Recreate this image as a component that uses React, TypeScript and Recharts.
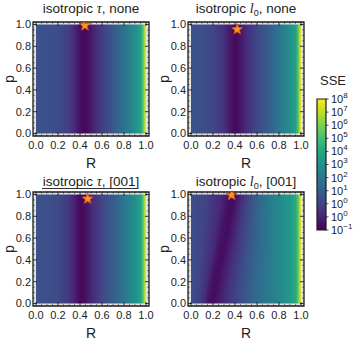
import React from 'react';
import { ComposedChart, XAxis, YAxis, ReferenceArea, Scatter } from 'recharts';

const FONT = '"Liberation Sans", Arial, sans-serif';
const SERIF = '"Liberation Serif", "Times New Roman", serif';
const INK = '#222';

// viridis colour map (11 stops)
const VIRIDIS = ['#440154', '#482475', '#414487', '#355f8d', '#2a788e', '#21918c', '#22a884', '#44bf70', '#7ad151', '#bddf26', '#fde725'];

// ---- data: colour level (0..1 on the colour bar) along R ----
const R_GRID = [0, 0.1, 0.2, 0.3, 0.35, 0.4, 0.45, 0.5, 0.55, 0.6, 0.7, 0.8, 0.9, 0.95, 0.97, 0.99, 1.0];
const LEVEL_TAU_NONE = [0.25, 0.245, 0.23, 0.18, 0.12, 0.04, 0.02, 0.07, 0.13, 0.18, 0.27, 0.38, 0.49, 0.58, 0.7, 0.9, 1.0];
const LEVEL_L0_NONE = [0.25, 0.24, 0.21, 0.14, 0.07, 0.02, 0.06, 0.12, 0.17, 0.21, 0.29, 0.39, 0.49, 0.57, 0.69, 0.9, 1.0];
const LEVEL_TAU_001 = [0.25, 0.24, 0.22, 0.16, 0.09, 0.02, 0.04, 0.11, 0.16, 0.21, 0.29, 0.39, 0.49, 0.58, 0.7, 0.9, 1.0];

const R_GRID_L0_001 = [0, 0.1, 0.2, 0.25, 0.3, 0.35, 0.4, 0.5, 0.6, 0.7, 0.8, 0.9, 0.95, 0.97, 0.99, 1.0];
const LEVEL_L0_001 = [0.24, 0.2, 0.12, 0.05, 0.03, 0.08, 0.14, 0.24, 0.33, 0.4, 0.46, 0.53, 0.61, 0.71, 0.9, 1.0];
const L0_001_BASE_MIN = 0.28; // R of the valley for the profile above (p = 0.5)
const P_ROWS_L0_001 = [0, 0.05, 0.1, 0.15, 0.2, 0.25, 0.3, 0.35, 0.4, 0.45, 0.5, 0.55, 0.6, 0.65, 0.7, 0.75, 0.8, 0.85, 0.9, 0.95, 1.0];
const MIN_R_L0_001 = [0.17, 0.18, 0.19, 0.2, 0.21, 0.22, 0.23, 0.243, 0.255, 0.268, 0.28, 0.29, 0.3, 0.31, 0.32, 0.33, 0.34, 0.35, 0.36, 0.37, 0.38];

// best-fit stars
const BEST_TAU_NONE = [{ R: 0.445, p: 0.99 }];
const BEST_L0_NONE = [{ R: 0.42, p: 0.955 }];
const BEST_TAU_001 = [{ R: 0.47, p: 0.96 }];
const BEST_L0_001 = [{ R: 0.37, p: 0.995 }];

const AXIS_TICKS = [0, 0.05, 0.1, 0.15, 0.2, 0.25, 0.3, 0.35, 0.4, 0.45, 0.5, 0.55, 0.6, 0.65, 0.7, 0.75, 0.8, 0.85, 0.9, 0.95, 1.0];
const CB_TICKS = [0, 1, 2, 3, 4, 5, 6, 7, 8, 9, 10];
const CB_EXPONENTS = ['\u22121', '0', '0', '1', '2', '3', '4', '5', '6', '7', '8'];

// ---- helpers ----
function hexToRgb(h: string) {
  return [parseInt(h.slice(1, 3), 16), parseInt(h.slice(3, 5), 16), parseInt(h.slice(5, 7), 16)];
}
function viridis(t: number) {
  const c = Math.max(0, Math.min(1, t)) * 10;
  const i = Math.min(9, Math.floor(c));
  const f = c - i;
  const a = hexToRgb(VIRIDIS[i]);
  const b = hexToRgb(VIRIDIS[i + 1]);
  const m = a.map((v, k) => Math.round(v + (b[k] - v) * f));
  return `rgb(${m[0]},${m[1]},${m[2]})`;
}
function warp(r: number, from: number, to: number) {
  if (r <= from) return (r / from) * to;
  if (r >= 0.7) return r;
  return to + ((r - from) / (0.7 - from)) * (0.7 - to);
}
const isMajor = (v: number) => Math.abs(v * 5 - Math.round(v * 5)) < 1e-6;

const FW = 116;
const FH = 114;
const PADX = 3 / 110;
const PADY = 2.5 / 109;
const XD = [-PADX, 1 + PADX];
const YD = [-PADY, 1 + PADY];
const M = 24;

const tickW = (maj: boolean) => (maj ? 0.9 : 0.6);
const tickL = (maj: boolean) => (maj ? 4 : 1.8);

const BottomTick = (props: any) => {
  const { x, y, payload } = props;
  const v = payload.value;
  const maj = isMajor(v);
  return (
    <g>
      <line x1={x} x2={x} y1={y} y2={y - tickL(maj)} stroke={INK} strokeWidth={tickW(maj)} />
      {maj && (
        <text x={x} y={y + 12.5} textAnchor="middle" fontSize={11} fill={INK} fontFamily={FONT}>
          {v.toFixed(1)}
        </text>
      )}
    </g>
  );
};
const TopTick = (props: any) => {
  const { x, y, payload } = props;
  const maj = isMajor(payload.value);
  return <line x1={x} x2={x} y1={y} y2={y + tickL(maj)} stroke={INK} strokeWidth={tickW(maj)} />;
};
const LeftTick = (props: any) => {
  const { x, y, payload } = props;
  const v = payload.value;
  const maj = isMajor(v);
  return (
    <g>
      <line x1={x} x2={x + tickL(maj)} y1={y} y2={y} stroke={INK} strokeWidth={tickW(maj)} />
      {maj && (
        <text x={x - 2} y={y} dy="0.36em" textAnchor="end" fontSize={11} fill={INK} fontFamily={FONT}>
          {v.toFixed(1)}
        </text>
      )}
    </g>
  );
};
const RightTick = (props: any) => {
  const { x, y, payload } = props;
  const maj = isMajor(payload.value);
  return <line x1={x} x2={x - tickL(maj)} y1={y} y2={y} stroke={INK} strokeWidth={tickW(maj)} />;
};
const CbTick = (props: any) => {
  const { x, y, payload } = props;
  const exp = CB_EXPONENTS[payload.value];
  return (
    <g>
      <line x1={x} x2={x + 2.5} y1={y} y2={y} stroke={INK} strokeWidth={0.8} />
      <text x={x + 5} y={y} dy="0.36em" fontSize={11} fill={INK} fontFamily={FONT}>
        10
        <tspan dy={-5} fontSize={8}>{exp}</tspan>
      </text>
    </g>
  );
};

const StarShape = (props: any) => {
  const { cx, cy } = props;
  if (cx == null || cy == null) return <g />;
  const pts: string[] = [];
  for (let k = 0; k < 10; k++) {
    const r = k % 2 === 0 ? 5.8 : 2.5;
    const a = -Math.PI / 2 + (k * Math.PI) / 5;
    pts.push(`${cx + r * Math.cos(a)},${cy + r * Math.sin(a)}`);
  }
  return <polygon points={pts.join(' ')} fill="#f7941d" stroke="#d4441c" strokeWidth={0.8} />;
};

type Band = { id: string; y1: number; y2: number; rs: number[]; levels: number[] };

function Panel({ left, top, bands, best }: { left: number; top: number; bands: Band[]; best: { R: number; p: number }[] }) {
  const mm = M - 1;
  return (
    <>
      <div
        style={{
          position: 'absolute',
          left,
          top,
          width: FW,
          height: FH,
          background: '#e2e2e2',
        }}
      />
      <div style={{ position: 'absolute', left: left - M, top: top - M }}>
        <ComposedChart width={FW + 2 * M} height={FH + 2 * M} margin={{ top: mm, right: mm, bottom: mm, left: mm }}>
          <defs>
            {bands.map((b) => (
              <linearGradient key={b.id} id={b.id} x1="0" y1="0" x2="1" y2="0">
                {b.rs.map((r, i) => (
                  <stop key={i} offset={r} stopColor={viridis(b.levels[i])} />
                ))}
              </linearGradient>
            ))}
          </defs>
          <XAxis
            xAxisId={0}
            dataKey="R"
            type="number"
            domain={XD}
            allowDataOverflow
            ticks={AXIS_TICKS}
            interval={0}
            tickSize={0}
            tickMargin={0}
            axisLine={false}
            tickLine={false}
            height={1}
            tick={BottomTick}
          />
          <XAxis
            xAxisId="t"
            orientation="top"
            dataKey="R"
            type="number"
            domain={XD}
            allowDataOverflow
            ticks={AXIS_TICKS}
            interval={0}
            tickSize={0}
            tickMargin={0}
            axisLine={false}
            tickLine={false}
            height={1}
            tick={TopTick}
          />
          <YAxis
            yAxisId={0}
            dataKey="p"
            type="number"
            domain={YD}
            allowDataOverflow
            ticks={AXIS_TICKS}
            interval={0}
            tickSize={0}
            tickMargin={0}
            axisLine={false}
            tickLine={false}
            width={1}
            tick={LeftTick}
          />
          <YAxis
            yAxisId="r"
            orientation="right"
            dataKey="p"
            type="number"
            domain={YD}
            allowDataOverflow
            ticks={AXIS_TICKS}
            interval={0}
            tickSize={0}
            tickMargin={0}
            axisLine={false}
            tickLine={false}
            width={1}
            tick={RightTick}
          />
          {bands.map((b) => (
            <ReferenceArea
              key={'a' + b.id}
              x1={0}
              x2={1}
              y1={b.y1}
              y2={b.y2}
              fill={`url(#${b.id})`}
              fillOpacity={1}
              stroke="none"
            />
          ))}
          <ReferenceArea x1={XD[0]} x2={XD[1]} y1={YD[0]} y2={YD[1]} fill="none" fillOpacity={0} stroke="#1a1a1a" strokeWidth={1.3} />
          <Scatter data={best} dataKey="p" shape={StarShape} isAnimationActive={false} />
        </ComposedChart>
      </div>
    </>
  );
}

const Txt = ({ x, y, size = 13, rotate = 0, children }: any) => (
  <div
    style={{
      position: 'absolute',
      left: x,
      top: y,
      transform: `translate(-50%, -50%) rotate(${rotate}deg)`,
      whiteSpace: 'nowrap',
      fontFamily: FONT,
      fontSize: size,
      color: INK,
      lineHeight: 1,
    }}
  >
    {children}
  </div>
);

const Tau = () => <span style={{ fontFamily: SERIF, fontStyle: 'italic', fontSize: 14 }}>τ</span>;
const L0 = () => (
  <span>
    <span style={{ fontFamily: SERIF, fontStyle: 'italic', fontSize: 14 }}>l</span>
    <span style={{ fontSize: 9, position: 'relative', top: 3 }}>0</span>
  </span>
);

export default function App() {
  const p1: Band[] = [{ id: 'g_tau_none', y1: 0, y2: 1, rs: R_GRID, levels: LEVEL_TAU_NONE }];
  const p2: Band[] = [{ id: 'g_l0_none', y1: 0, y2: 1, rs: R_GRID, levels: LEVEL_L0_NONE }];
  const p3: Band[] = [{ id: 'g_tau_001', y1: 0, y2: 1, rs: R_GRID, levels: LEVEL_TAU_001 }];
  const p4: Band[] = P_ROWS_L0_001.map((p, k) => ({
    id: 'g_l0_001_' + k,
    y1: Math.max(0, p - 0.03),
    y2: Math.min(1, p + 0.03),
    rs: R_GRID_L0_001.map((r) => warp(r, L0_001_BASE_MIN, MIN_R_L0_001[k])),
    levels: LEVEL_L0_001,
  }));

  const CB_LEFT = 317;
  const CB_TOP = 99;
  const CB_W = 9;
  const CB_H = 131;

  return (
    <div style={{ position: 'absolute', left: 0, top: 0, width: 353, height: 343, background: '#fff', overflow: 'hidden' }}>
      <Panel left={33} top={22} bands={p1} best={BEST_TAU_NONE} />
      <Panel left={188} top={22} bands={p2} best={BEST_L0_NONE} />
      <Panel left={33} top={192} bands={p3} best={BEST_TAU_001} />
      <Panel left={188} top={192} bands={p4} best={BEST_L0_001} />

      <Txt x={91} y={9} size={13.5}>isotropic <Tau />, none</Txt>
      <Txt x={246} y={9} size={13.5}>isotropic <L0 />, none</Txt>
      <Txt x={91} y={182} size={13.5}>isotropic <Tau />, [001]</Txt>
      <div style={{ position: 'absolute', left: 42, top: 187.5, width: 96, height: 1, background: '#333' }} />
      <Txt x={246} y={182} size={13.5}>isotropic <L0 />, [001]</Txt>

      <Txt x={91} y={163} size={14}>R</Txt>
      <Txt x={246} y={163} size={14}>R</Txt>
      <Txt x={91} y={333} size={14}>R</Txt>
      <Txt x={246} y={333} size={14}>R</Txt>
      <Txt x={9} y={79} size={14} rotate={-90}>p</Txt>
      <Txt x={164} y={79} size={14} rotate={-90}>p</Txt>
      <Txt x={9} y={249} size={14} rotate={-90}>p</Txt>
      <Txt x={164} y={249} size={14} rotate={-90}>p</Txt>

      <Txt x={333} y={80} size={13}>SSE</Txt>
      <div style={{ position: 'absolute', left: CB_LEFT - M, top: CB_TOP - M }}>
        <ComposedChart width={CB_W + M + 30} height={CB_H + 2 * M} margin={{ top: M, left: M, right: 29, bottom: M }}>
          <defs>
            <linearGradient id="cb_grad" x1="0" y1="1" x2="0" y2="0">
              {VIRIDIS.map((c, i) => (
                <stop key={i} offset={i / 10} stopColor={c} />
              ))}
            </linearGradient>
          </defs>
          <XAxis dataKey="x" type="number" domain={[0, 1]} allowDataOverflow hide />
          <YAxis
            orientation="right"
            dataKey="y"
            type="number"
            domain={[0, 10]}
            allowDataOverflow
            ticks={CB_TICKS}
            interval={0}
            tickSize={0}
            tickMargin={0}
            axisLine={false}
            tickLine={false}
            width={1}
            tick={CbTick}
          />
          <ReferenceArea x1={0} x2={1} y1={0} y2={10} fill="url(#cb_grad)" fillOpacity={1} stroke="#1a1a1a" strokeWidth={1.2} />
        </ComposedChart>
      </div>
    </div>
  );
}
